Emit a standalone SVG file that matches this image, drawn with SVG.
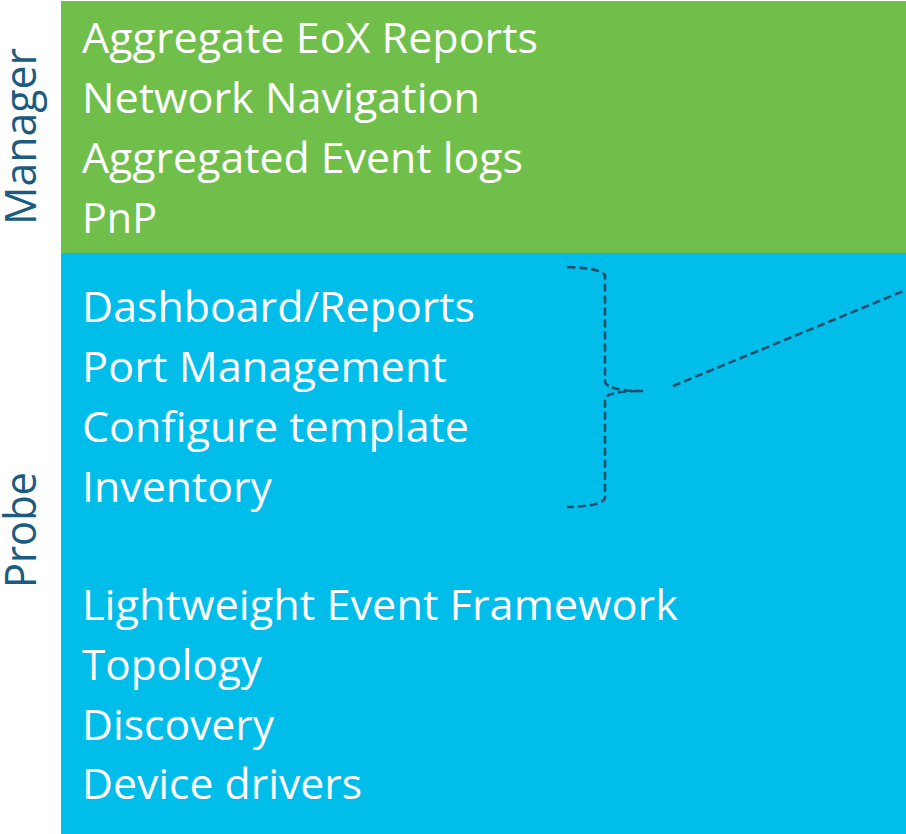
<svg xmlns="http://www.w3.org/2000/svg" width="906" height="834" viewBox="0 0 906 834">
<style>
.item{font-family:"Open Sans","Noto Sans",sans-serif;font-size:42px;fill:#ffffff}
.side{font-family:"Open Sans","Noto Sans",sans-serif;font-size:44px;fill:#1B5B80}
.dash{fill:none;stroke:#1D4E6E;stroke-width:2.6;stroke-dasharray:8,4}
</style>
<rect width="906" height="834" fill="#ffffff"/>
<g id="manager">
<rect x="61" y="1" width="845" height="252" fill="#6FBF4A"/>
<text class="item" x="82" y="53" textLength="456" lengthAdjust="spacingAndGlyphs">Aggregate EoX Reports</text>
<text class="item" x="82" y="113" textLength="398" lengthAdjust="spacingAndGlyphs">Network Navigation</text>
<text class="item" x="82" y="173" textLength="441" lengthAdjust="spacingAndGlyphs">Aggregated Event logs</text>
<text class="item" x="82" y="233" textLength="75" lengthAdjust="spacingAndGlyphs">PnP</text>
<text class="side" transform="translate(36,225) rotate(-90)" textLength="177" lengthAdjust="spacingAndGlyphs">Manager</text>
</g>
<g id="probe">
<rect x="61" y="253" width="845" height="581" fill="#00BDEA"/>
<text class="item" x="82" y="322" textLength="393" lengthAdjust="spacingAndGlyphs">Dashboard/Reports</text>
<text class="item" x="82" y="382" textLength="365" lengthAdjust="spacingAndGlyphs">Port Management</text>
<text class="item" x="82" y="442" textLength="387" lengthAdjust="spacingAndGlyphs">Configure template</text>
<text class="item" x="82" y="502" textLength="190" lengthAdjust="spacingAndGlyphs">Inventory</text>
<text class="item" x="82" y="620" textLength="596" lengthAdjust="spacingAndGlyphs">Lightweight Event Framework</text>
<text class="item" x="82" y="680" textLength="180" lengthAdjust="spacingAndGlyphs">Topology</text>
<text class="item" x="82" y="740" textLength="192" lengthAdjust="spacingAndGlyphs">Discovery</text>
<text class="item" x="82" y="799" textLength="280" lengthAdjust="spacingAndGlyphs">Device drivers</text>
<text class="side" transform="translate(36,588) rotate(-90)" textLength="116" lengthAdjust="spacingAndGlyphs">Probe</text>
</g>
<g id="connectors">
<path class="dash" d="M567,267 Q600,268 605,275 L605,382 Q608,391 643,391 Q606,391 605,399 L605,498 Q603,506 567,507"/>
<path class="dash" d="M673,386 L906,290"/>
</g>
</svg>
